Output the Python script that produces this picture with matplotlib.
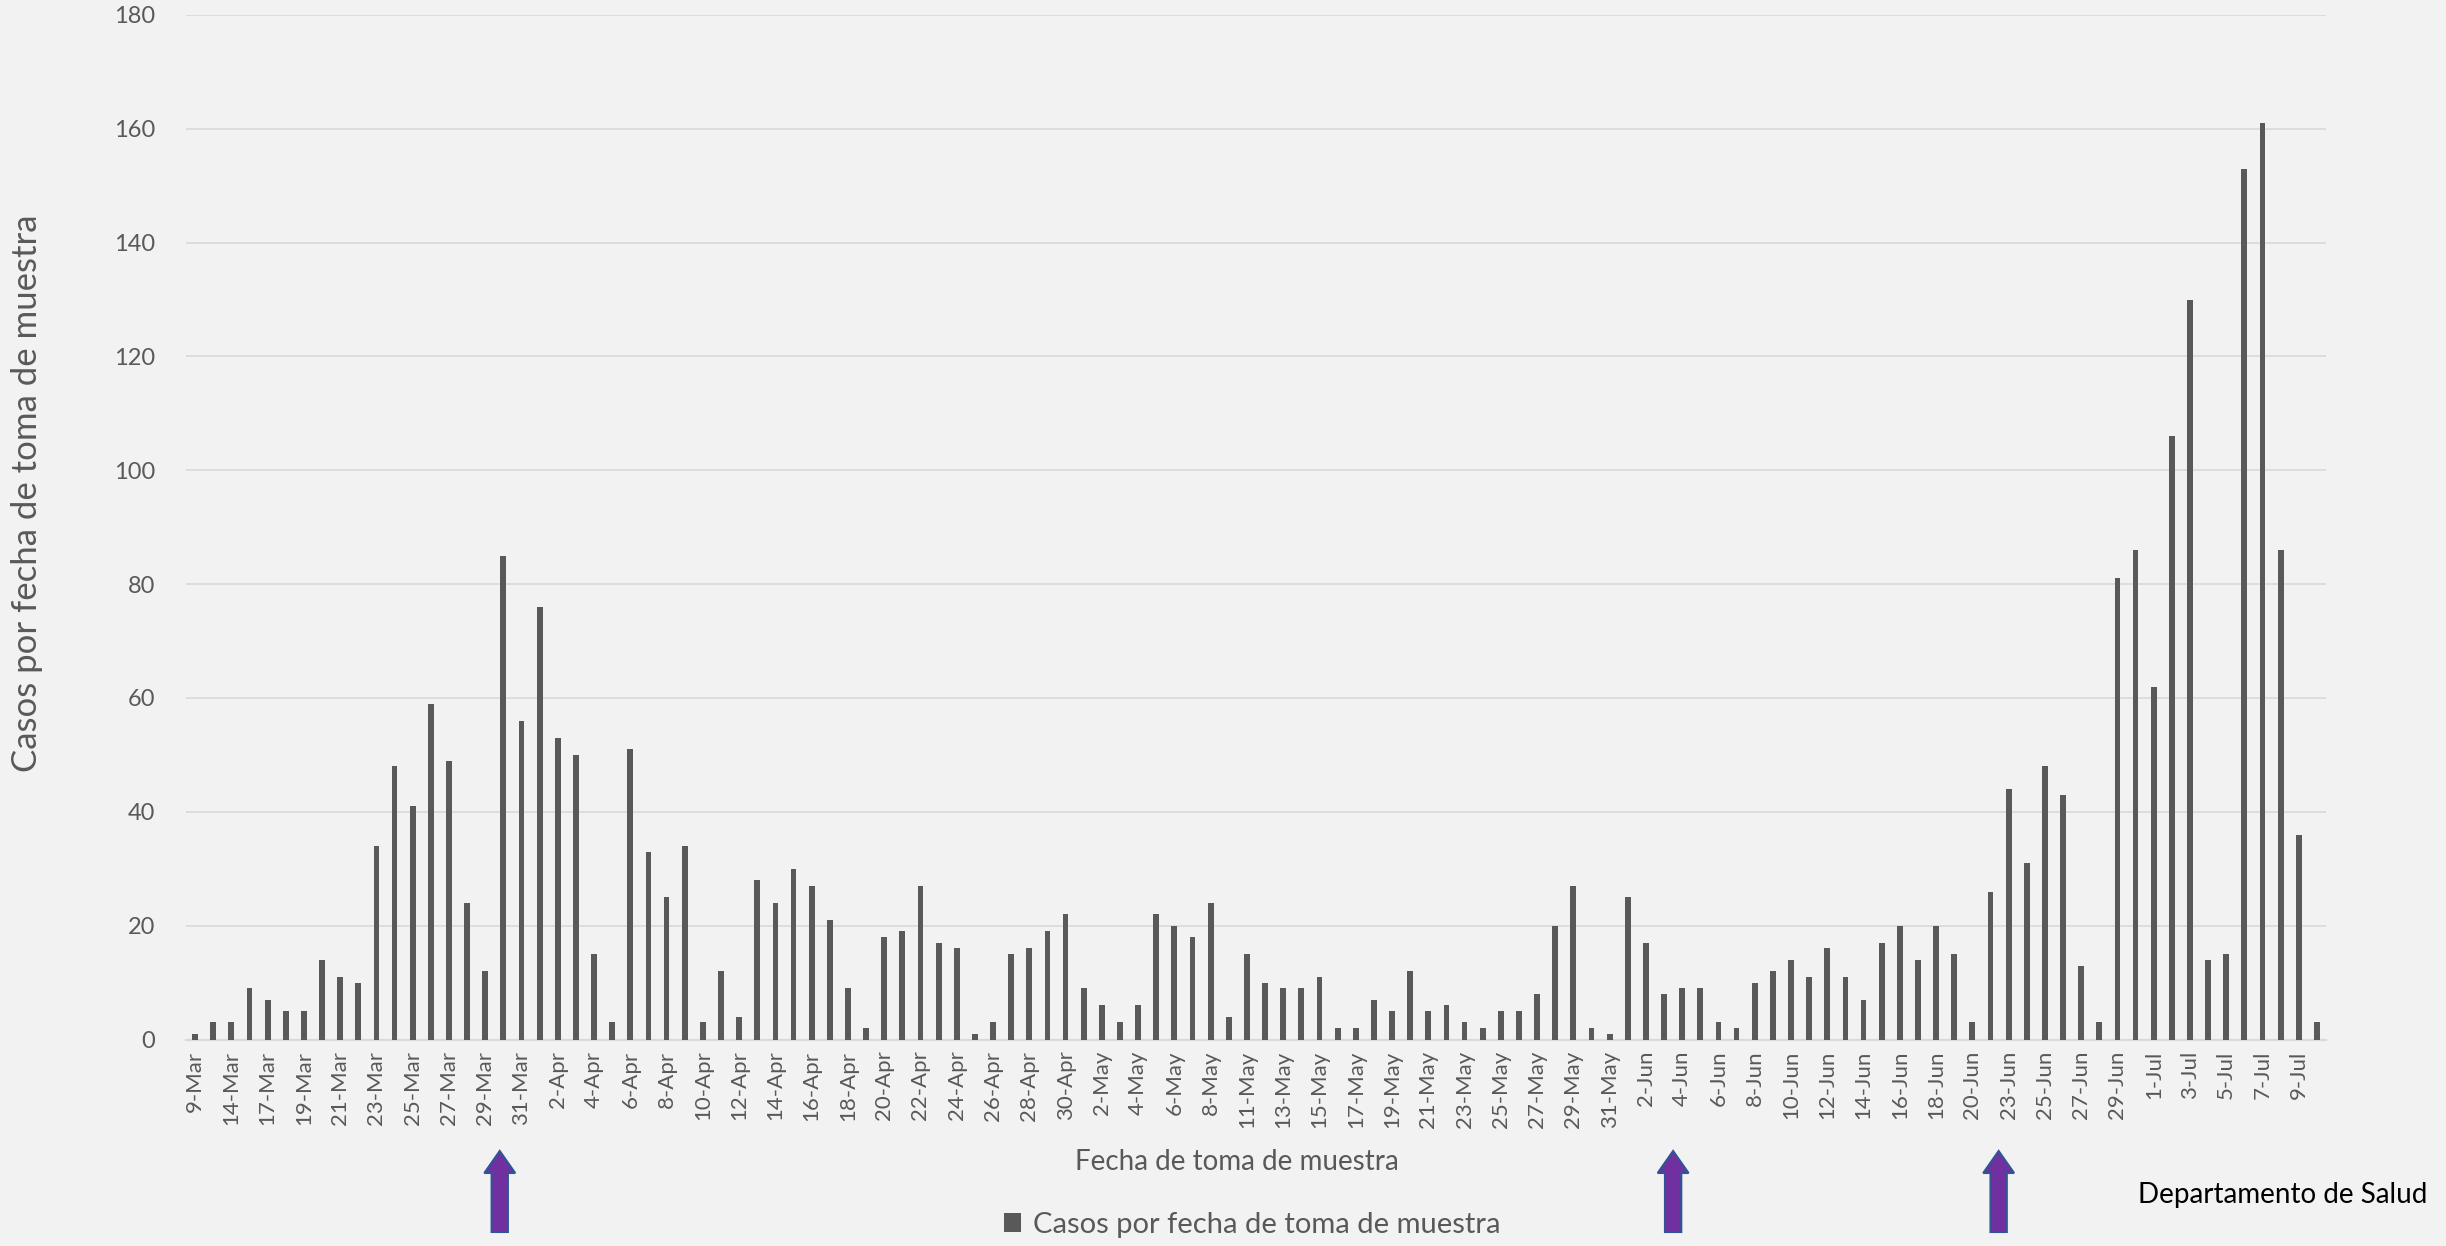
import matplotlib
matplotlib.use("Agg")
import matplotlib.pyplot as plt
from matplotlib.patches import Polygon
from matplotlib.transforms import blended_transform_factory
import numpy as np

plt.rcParams['font.family'] = ['Lato', 'DejaVu Sans']

dates = [
    "9-Mar", "13-Mar", "14-Mar", "16-Mar", "17-Mar", "18-Mar", "19-Mar", "20-Mar", "21-Mar", "22-Mar",
    "23-Mar", "24-Mar", "25-Mar", "26-Mar", "27-Mar", "28-Mar", "29-Mar", "30-Mar", "31-Mar", "1-Apr",
    "2-Apr", "3-Apr", "4-Apr", "5-Apr", "6-Apr", "7-Apr", "8-Apr", "9-Apr", "10-Apr", "11-Apr",
    "12-Apr", "13-Apr", "14-Apr", "15-Apr", "16-Apr", "17-Apr", "18-Apr", "19-Apr", "20-Apr", "21-Apr",
    "22-Apr", "23-Apr", "24-Apr", "25-Apr", "26-Apr", "27-Apr", "28-Apr", "29-Apr", "30-Apr", "1-May",
    "2-May", "3-May", "4-May", "5-May", "6-May", "7-May", "8-May", "10-May", "11-May", "12-May",
    "13-May", "14-May", "15-May", "16-May", "17-May", "18-May", "19-May", "20-May", "21-May", "22-May",
    "23-May", "24-May", "25-May", "26-May", "27-May", "28-May", "29-May", "30-May", "31-May", "1-Jun",
    "2-Jun", "3-Jun", "4-Jun", "5-Jun", "6-Jun", "7-Jun", "8-Jun", "9-Jun", "10-Jun", "11-Jun",
    "12-Jun", "13-Jun", "14-Jun", "15-Jun", "16-Jun", "17-Jun", "18-Jun", "19-Jun", "20-Jun", "22-Jun",
    "23-Jun", "24-Jun", "25-Jun", "26-Jun", "27-Jun", "28-Jun", "29-Jun", "30-Jun", "1-Jul", "2-Jul",
    "3-Jul", "4-Jul", "5-Jul", "6-Jul", "7-Jul", "8-Jul", "9-Jul", "10-Jul",
]

casos = [
    1, 3, 3, 9, 7, 5, 5, 14, 11, 10,
    34, 48, 41, 59, 49, 24, 12, 85, 56, 76,
    53, 50, 15, 3, 51, 33, 25, 34, 3, 12,
    4, 28, 24, 30, 27, 21, 9, 2, 18, 19,
    27, 17, 16, 1, 3, 15, 16, 19, 22, 9,
    6, 3, 6, 22, 20, 18, 24, 4, 15, 10,
    9, 9, 11, 2, 2, 7, 5, 12, 5, 6,
    3, 2, 5, 5, 8, 20, 27, 2, 1, 25,
    17, 8, 9, 9, 3, 2, 10, 12, 14, 11,
    16, 11, 7, 17, 20, 14, 20, 15, 3, 26,
    44, 31, 48, 43, 13, 3, 81, 86, 62, 106,
    130, 14, 15, 153, 161, 86, 36, 3,
]

y_ticks = [0, 20, 40, 60, 80, 100, 120, 140, 160, 180]
arrow_positions = [16.8, 81.5, 99.45]

series_name = "Casos por fecha de toma de muestra"
x_title = "Fecha de toma de muestra"
y_title = "Casos por fecha de toma de muestra"
source = "Departamento de Salud"

BG = "#f2f2f2"
BAR = "#595959"
GRID = "#d9d9d9"
TXT = "#595959"

W, H = 2446, 1246
AX_L, AX_R, AX_T, AX_B = 186, 2326, 15, 1039.5
fig = plt.figure(figsize=(W / 100, H / 100), dpi=100, facecolor=BG)
ax = fig.add_axes([AX_L / W, 1 - AX_B / H, (AX_R - AX_L) / W, (AX_B - AX_T) / H])
ax.set_facecolor(BG)

x = np.arange(len(dates))
ax.bar(x, casos, width=0.32, color=BAR, zorder=3, label=series_name)

ax.set_xlim(-0.5, len(dates) - 0.5)
ax.set_ylim(0, 180)
ax.set_yticks(y_ticks)
ax.set_yticklabels([str(v) for v in y_ticks], fontsize=17, color=TXT)
ax.yaxis.grid(True, color=GRID, linewidth=1.2, zorder=0)
ax.set_axisbelow(True)
ax.tick_params(axis='y', length=0, pad=22)
ax.tick_params(axis='x', length=0, pad=8)
ax.set_xticks(x[::2])
ax.set_xticklabels(dates[::2], rotation=90, fontsize=16, color=TXT)

for s in ['top', 'right', 'left']:
    ax.spines[s].set_visible(False)
ax.spines['bottom'].set_color(GRID)
ax.spines['bottom'].set_linewidth(1.6)

fig.text(27 / W, 1 - 493 / H, y_title, fontsize=25, color=TXT, rotation=90,
         ha='center', va='center')

fig.text(1237 / W, 1 - 1162 / H, x_title, fontsize=20, color=TXT, ha='center', va='center')

leg = fig.legend(loc='center', bbox_to_anchor=(1252 / W, 1 - 1225 / H), frameon=False,
                 fontsize=21, labelcolor=TXT, handlelength=0.6, handleheight=0.6,
                 handletextpad=0.4)

fig.text(2427 / W, 1 - 1195 / H, source, fontsize=20, color='black', ha='right', va='center')

# decorative arrows under the axis
trans = blended_transform_factory(ax.transData, fig.transFigure)
for xa in arrow_positions:
    hw = 0.85   # half head width in categories
    sw = 0.45   # half shaft width
    y_tip = 1 - 1151 / H
    y_neck = 1 - 1173 / H
    y_base = 1 - 1232 / H
    pts = [(xa, y_tip), (xa + hw, y_neck), (xa + sw, y_neck), (xa + sw, y_base),
           (xa - sw, y_base), (xa - sw, y_neck), (xa - hw, y_neck)]
    p = Polygon(pts, closed=True, transform=trans, facecolor="#7030a0",
                edgecolor="#2f5597", linewidth=1.5, clip_on=False, zorder=5)
    fig.add_artist(p)

fig.savefig("out.png", dpi=100, facecolor=BG)
